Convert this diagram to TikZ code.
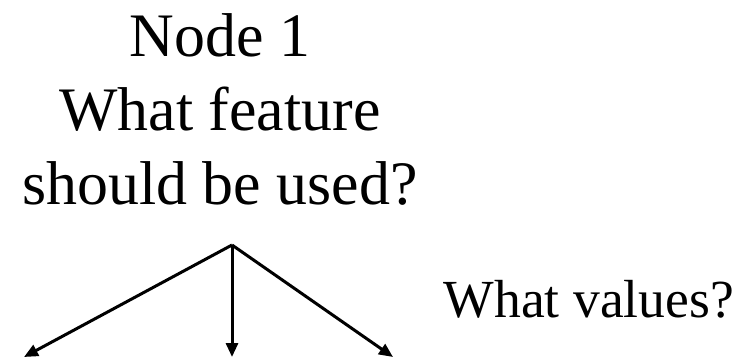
\documentclass[tikz,border=0pt]{standalone}
\usepackage{fontspec}
\setmainfont{Liberation Serif}
\usetikzlibrary{arrows.meta}
\usetikzlibrary{positioning}

\begin{document}
\begin{tikzpicture}[
		question/.style = {align=center, inner sep=0pt, font=\fontsize{17.6}{21}\selectfont},
		branch/.style = {line width=0.03cm, -{Triangle[length=0.14cm, width=0.12cm]}}]
		\useasboundingbox (0,0) rectangle (7.43,3.58);
		\node[question, anchor=base] (node1) at (2.20,1.54) {Node 1\\What feature\\should be used?};
		\node[anchor=base west, inner sep=0pt, font=\fontsize{15.25}{18}\selectfont] (values) at (4.43,0.41) {What values?};
		
		\coordinate (split) at (2.32,1.13);
		\coordinate (val1) at (0.24,0.01);
		\coordinate (val2) at (2.32,0.01);
		\coordinate (val3) at (3.93,0.01);
		
		\draw [branch] (split) -- (val1);
		\draw [branch] (split) -- (val2);
		\draw [branch] (split) -- (val3);
		\end{tikzpicture}
\end{document}
